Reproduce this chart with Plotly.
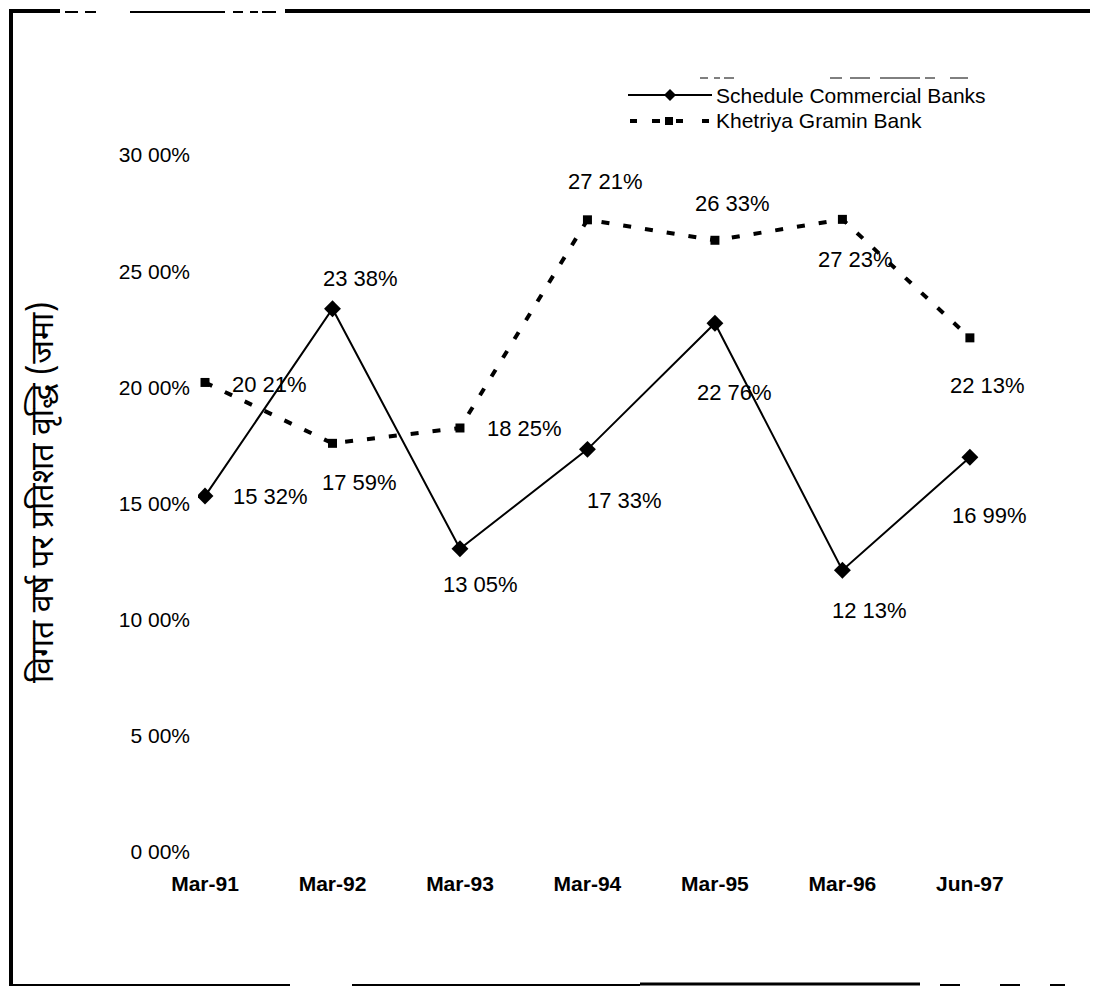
import plotly.graph_objects as go

categories = ["Mar-91", "Mar-92", "Mar-93", "Mar-94", "Mar-95", "Mar-96", "Jun-97"]
scb_values = [15.32, 23.38, 13.05, 17.33, 22.76, 12.13, 16.99]
kgb_values = [20.21, 17.59, 18.25, 27.21, 26.33, 27.23, 22.13]
y_ticks = [0, 5, 10, 15, 20, 25, 30]
y_tick_labels = ["0 00%", "5 00%", "10 00%", "15 00%", "20 00%", "25 00%", "30 00%"]
series_names = ["Schedule Commercial Banks", "Khetriya Gramin Bank"]
y_title = "विगत वर्ष पर प्रतिशत वृद्धि (जमा)"

# layout geometry (page pixels); the page body adds an 8px offset
OFF = 8
W, H = 1098 - OFF, 990 - OFF
L, R, T, B = 198, 1040, 141, 852
FONT = "Liberation Sans, Arial, sans-serif"

def px(x):
    return (x - L) / (R - L)

def py(y):
    return (B - y) / (B - T)

xs = list(range(len(categories)))

fig = go.Figure()
fig.add_trace(go.Scatter(
    x=xs, y=scb_values, mode="lines+markers", name=series_names[0],
    line=dict(color="black", width=2),
    marker=dict(symbol="diamond", size=13, color="black"),
    showlegend=False,
))
fig.add_trace(go.Scatter(
    x=xs, y=kgb_values, mode="lines+markers", name=series_names[1],
    line=dict(color="black", width=4, dash="8px,14px"),
    marker=dict(symbol="square", size=9, color="black"),
    showlegend=False,
))

# data label offsets (pixels)
scb_off = [(65, 0), (28, 30), (21, -36), (37, -51), (20, -69), (27, -40), (20, -58)]
kgb_off = [(64, -2), (27, -39), (65, -1), (18, 38), (18, 37), (13, -40), (18, -48)]

annotations = []
for vals, offs in ((scb_values, scb_off), (kgb_values, kgb_off)):
    for i, v in enumerate(vals):
        annotations.append(dict(
            x=i, y=v, xref="x", yref="y", text=f"{v:.2f}%".replace(".", " "),
            showarrow=False, xshift=offs[i][0], yshift=offs[i][1],
            xanchor="center", yanchor="middle",
            font=dict(family=FONT, size=22, color="black"),
        ))

# y-axis title
annotations.append(dict(
    x=px(45), y=py(492), xref="paper", yref="paper", text=y_title,
    textangle=-90, showarrow=False, xanchor="center", yanchor="middle",
    font=dict(family="Noto Sans Devanagari, Lohit Devanagari, FreeSans, Noto Sans, sans-serif", size=32, color="black"),
))

# custom legend text
LEG_Y = [95, 121]
annotations.append(dict(x=px(714), y=py(LEG_Y[0]), xref="paper", yref="paper", text=series_names[0],
                        showarrow=False, xanchor="left", yanchor="middle",
                        font=dict(family=FONT, size=21, color="black")))
annotations.append(dict(x=px(714), y=py(LEG_Y[1]), xref="paper", yref="paper", text=series_names[1],
                        showarrow=False, xanchor="left", yanchor="middle",
                        font=dict(family=FONT, size=21, color="black")))

shapes = []
# legend samples
y0 = LEG_Y[0]
shapes.append(dict(type="line", xref="paper", yref="paper", x0=px(628), x1=px(712), y0=py(y0), y1=py(y0),
                   line=dict(color="black", width=2)))
shapes.append(dict(type="path", xref="paper", yref="paper",
                   path=f"M {px(670)} {py(y0 - 6)} L {px(676)} {py(y0)} L {px(670)} {py(y0 + 6)} L {px(664)} {py(y0)} Z",
                   fillcolor="black", line=dict(color="black", width=0)))
y1 = LEG_Y[1]
for a, b in [(630, 637), (652, 660), (676, 683), (702, 709)]:
    shapes.append(dict(type="line", xref="paper", yref="paper", x0=px(a), x1=px(b), y0=py(y1), y1=py(y1),
                       line=dict(color="black", width=4)))
shapes.append(dict(type="rect", xref="paper", yref="paper", x0=px(665), x1=px(673), y0=py(y1 - 4), y1=py(y1 + 4),
                   fillcolor="black", line=dict(color="black", width=0)))

# scanned frame
def seg(x0, ya, x1, yb, w):
    shapes.append(dict(type="line", xref="paper", yref="paper", x0=px(x0), x1=px(x1), y0=py(ya), y1=py(yb),
                       line=dict(color="black", width=w)))

seg(11, 10, 11, 986, 4)
seg(9, 11, 60, 11, 4)
for a, b in [(65, 78), (85, 96), (130, 225), (233, 243), (250, 258), (262, 276)]:
    seg(a, 12, b, 12, 2)
seg(285, 11, 1098, 11, 4)
seg(9, 985, 290, 985, 2)
seg(352, 985, 640, 985, 2)
seg(640, 984, 920, 984, 3)
for a, b in [(940, 960), (1000, 1020), (1050, 1065)]:
    seg(a, 985, b, 985, 2)
for a, b in [(700, 708), (714, 720), (724, 734), (830, 842), (850, 870), (880, 920), (925, 935), (950, 968)]:
    seg(a, 78, b, 78, 1)

fig.update_layout(
    width=W, height=H,
    margin=dict(l=L - OFF, r=W - (R - OFF), t=T - OFF, b=H - (B - OFF), pad=0),
    paper_bgcolor="white", plot_bgcolor="white",
    annotations=annotations, shapes=shapes,
    font=dict(family=FONT, size=17, color="black"),
    xaxis=dict(range=[-0.055, 6.55], tickvals=xs, ticktext=categories, showgrid=False,
               zeroline=False, showline=False, ticks="", ticklabelstandoff=17,
               tickfont=dict(family="Liberation Sans, Arial, sans-serif", size=21, color="black", weight="bold")),
    yaxis=dict(range=[0, (B - T) / ((852 - 155) / 30)], tickvals=y_ticks, ticktext=y_tick_labels,
               showgrid=False, zeroline=False, showline=False, ticks="", ticklabelstandoff=7,
               tickfont=dict(family=FONT, size=21, color="black")),
)

fig.write_html("out.html")
